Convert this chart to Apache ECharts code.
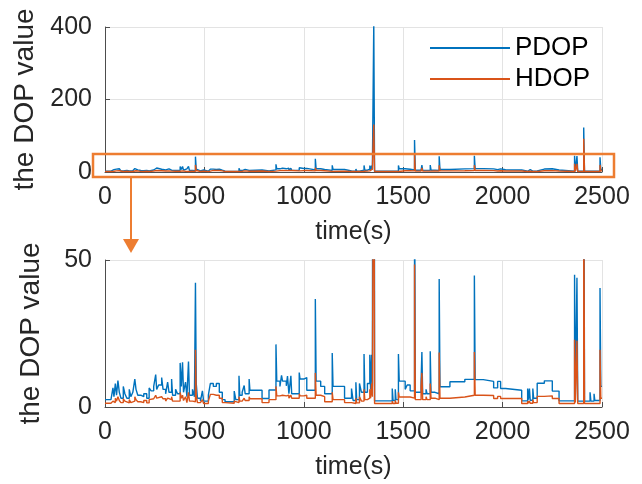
<!DOCTYPE html>
<html>
<head>
<meta charset="utf-8">
<script src="https://cdn.jsdelivr.net/npm/echarts@6/dist/echarts.min.js"></script>
<style>html,body{margin:0;padding:0;background:#fff}#c{width:642px;height:484px}</style>
</head>
<body>
<div id="c"></div>
<script>
// ---- data (time in s, DOP values) ----
var time = [0,30,40,45,52,58,65,72,80,92,100,110,122,130,140,150,156,165,180,195,210,222,232,245,255,260,270,285,292,305,315,322,335,340,355,365,378,384,390,395,405,412,420,425,440,450,455,459,465,480,490,496,520,530,545,560,575,590,604,650,658,674,678,690,700,705,725,729,790,825,860,864,880,888,893,912,918,925,935,939,977,981,1000,1015,1058,1062,1085,1105,1143,1147,1205,1240,1248,1262,1266,1280,1290,1303,1307,1320,1332,1336,1341,1345,1352,1356,1445,1449,1460,1464,1476,1480,1510,1520,1535,1557,1561,1590,1594,1598,1615,1620,1636,1640,1660,1681,1685,1735,1810,1858,1862,1903,1955,1975,1990,2015,2096,2126,2130,2135,2139,2152,2156,2174,2210,2250,2284,2362,2366,2374,2378,2408,2412,2440,2444,2460,2464,2490,2494,2500];
var pdop = [2.5,2.2,6.5,3.5,8.0,4.0,9.0,5.0,3.0,7.0,4.5,3.0,6.0,3.5,5.0,9.5,6.0,4.0,3.5,4.5,3.0,6.5,5.5,7.0,11.0,6.0,7.5,10.0,6.0,4.5,8.5,5.0,9.5,4.0,6.0,4.5,15.0,7.0,15.2,5.0,8.5,3.5,15.5,4.0,6.0,3.5,42.3,8.0,3.0,2.0,5.5,2.0,4.0,8.0,7.0,8.0,5.0,2.5,1.8,5.4,2.5,10.6,4.0,5.0,7.3,4.5,9.5,5.7,2.9,5.8,21.3,8.8,7.0,10.8,8.8,7.2,10.5,4.5,10.6,4.5,11.7,9.5,10.0,5.7,36.7,8.8,7.0,4.5,18.4,7.0,3.0,6.3,2.2,8.4,2.5,8.0,5.0,18.0,5.0,8.0,17.8,6.0,17.8,7.0,411,2.1,6.3,2.2,6.0,2.5,18.0,8.8,6.0,7.5,5.5,88,5.0,8.8,18.7,4.5,6.0,4.5,19.0,5.0,4.5,43.5,6.9,8.6,9.4,44.7,9.3,8.7,6.5,8.7,6.3,5.7,2.1,6.3,2.5,6.3,2.3,6.3,3.0,8.1,8.9,5.4,2.1,45.0,2.5,44.0,2.0,123,2.0,5.0,2.0,4.5,2.2,40.5,7.0,7.0];
var hdop = [1.3,1.0,2.0,1.5,3.0,2.0,3.5,2.2,1.5,2.8,2.0,1.4,2.5,1.5,2.0,3.5,2.5,1.8,1.5,2.2,1.4,2.5,2.8,3.0,4.0,3.0,3.5,4.0,2.8,2.0,3.0,2.5,3.5,2.0,2.5,2.0,5.0,3.0,4.0,2.2,3.5,1.5,5.0,2.0,2.5,1.8,19.5,4.0,1.5,1.2,2.5,1.2,2.0,4.3,4.0,4.0,3.0,1.5,1.3,2.0,1.5,3.5,2.0,2.5,3.0,2.2,3.5,2.8,1.5,2.5,7.0,3.8,3.5,4.0,3.8,3.5,4.0,3.0,4.0,3.0,4.5,3.8,4.0,3.0,11.6,4.0,3.5,1.8,5.0,2.5,1.5,2.0,1.2,3.0,1.4,3.5,2.0,6.0,2.5,3.0,6.0,3.0,8.0,3.5,131,1.2,2.0,1.2,2.2,1.3,5.0,3.4,3.0,3.4,3.0,48.5,2.5,7.0,11.6,2.5,3.5,2.5,8.0,3.0,2.5,18.5,3.0,3.4,4.0,18.7,4.0,3.9,2.9,3.6,2.9,2.9,1.2,2.0,1.3,2.0,1.3,2.5,1.5,3.6,3.8,2.9,1.2,22.9,1.5,22.5,1.2,92,1.2,1.8,1.2,1.8,1.2,19.5,3.0,3.0];
var seriesNames = ['PDOP', 'HDOP'];
var xTicks = [0, 500, 1000, 1500, 2000, 2500];
var yTicksTop = [0, 200, 400];
var yTicksBottom = [0, 50];
var xLabel = 'time(s)';
var yLabel = 'the DOP value';

function pairs(v) { return time.map(function (t, i) { return [t, v[i]]; }); }

var FONT = 'Liberation Sans, Arial, sans-serif';
var TXT = '#262626';
var BLUE = '#0072BD', ORANGE = '#D95319', BOX = '#ED7D31';
function plain(v) { return String(v); }

function xAxis(gi) {
  return {
    type: 'value', gridIndex: gi, min: xTicks[0], max: xTicks[xTicks.length - 1], interval: 500,
    name: xLabel, nameLocation: 'middle', nameGap: 48,
    nameTextStyle: { fontFamily: FONT, fontSize: 25, color: TXT },
    axisLine: { show: true, onZero: false, lineStyle: { color: '#4d4d4d', width: 1 } },
    axisTick: { show: true, inside: true, length: 5, lineStyle: { color: '#4d4d4d' } },
    axisLabel: { fontFamily: FONT, fontSize: 25, color: TXT, margin: 13, formatter: plain },
    splitLine: { show: true, lineStyle: { color: '#e3e3e3', width: 1 } }
  };
}
function yAxis(gi, ticks) {
  return {
    type: 'value', gridIndex: gi, min: ticks[0], max: ticks[ticks.length - 1], interval: ticks[1] - ticks[0],
    name: yLabel, nameLocation: 'middle', nameGap: 60,
    nameTextStyle: { fontFamily: FONT, fontSize: 28, color: TXT },
    axisLine: { show: true, onZero: false, lineStyle: { color: '#4d4d4d', width: 1 } },
    axisTick: { show: true, inside: true, length: 5, lineStyle: { color: '#4d4d4d' } },
    axisLabel: { fontFamily: FONT, fontSize: 25, color: TXT, margin: 13, formatter: plain },
    splitLine: { show: true, lineStyle: { color: '#e3e3e3', width: 1 } }
  };
}
function line(name, gi, data, color) {
  return {
    name: name, type: 'line', xAxisIndex: gi, yAxisIndex: gi, data: pairs(data),
    step: 'end', showSymbol: false, symbol: 'none', clip: true,
    lineStyle: { color: color, width: 1.4 }, itemStyle: { color: color }
  };
}

var chart = echarts.init(document.getElementById('c'), null, { renderer: 'canvas' });
chart.setOption({
  animation: false,
  backgroundColor: '#fff',
  grid: [
    { left: 105, top: 27, width: 497, height: 145 },
    { left: 105, top: 260, width: 497, height: 147 }
  ],
  xAxis: [xAxis(0), xAxis(1)],
  yAxis: [yAxis(0, yTicksTop), yAxis(1, yTicksBottom)],
  legend: {
    orient: 'vertical', left: 425, top: 29, itemWidth: 80, itemHeight: 2, itemGap: 3,
    icon: 'rect', selectedMode: false,
    textStyle: { fontFamily: FONT, fontSize: 26, color: '#000', lineHeight: 28 },
    data: seriesNames
  },
  series: [
    line(seriesNames[0], 0, pdop, BLUE),
    line(seriesNames[1], 0, hdop, ORANGE),
    line(seriesNames[0], 1, pdop, BLUE),
    line(seriesNames[1], 1, hdop, ORANGE)
  ]
});

// zoom-box annotation derived from the top axes' scale (covers y 0..50)
var pTL = chart.convertToPixel({ gridIndex: 0 }, [xTicks[0], yTicksBottom[1]]);
var pBR = chart.convertToPixel({ gridIndex: 0 }, [xTicks[xTicks.length - 1], yTicksBottom[0]]);
var bx = pTL[0] - 12, by = pTL[1], bw = (pBR[0] + 12) - bx, bh = (pBR[1] + 5) - by;
var ax = pTL[0] + 26;
var b2 = chart.convertToPixel({ gridIndex: 1 }, [xTicks[0], yTicksBottom[1]]);
var tipY = b2[1] - 7;
chart.setOption({
  graphic: [
    { type: 'rect', shape: { x: bx, y: by, width: bw, height: bh }, style: { fill: 'none', stroke: BOX, lineWidth: 2.5 }, z: 100 },
    { type: 'line', shape: { x1: ax, y1: by + bh, x2: ax, y2: tipY - 12 }, style: { stroke: BOX, lineWidth: 2 }, z: 100 },
    { type: 'polygon', shape: { points: [[ax - 8, tipY - 14], [ax + 8, tipY - 14], [ax, tipY]] }, style: { fill: BOX }, z: 100 }
  ]
});
</script>
</body>
</html>
